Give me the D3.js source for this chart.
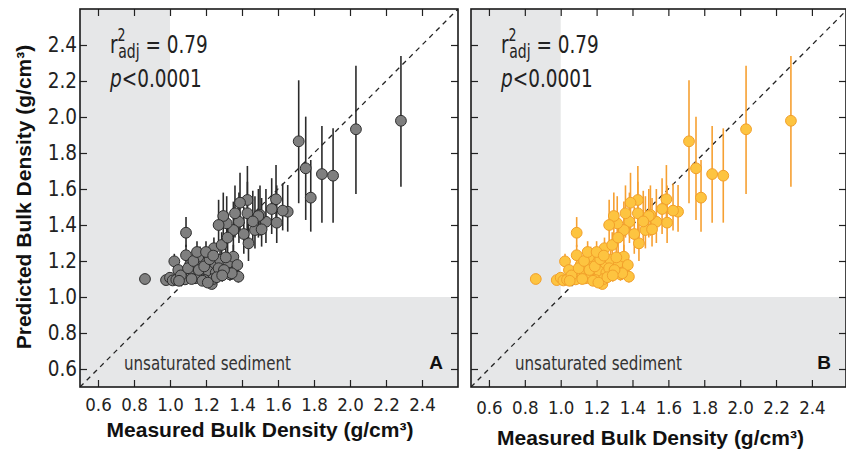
<!DOCTYPE html>
<html>
<head>
<meta charset="utf-8">
<style>
  body { margin: 0; background: #fff; }
  svg { display: block; }
  .tick text { font-family: "DejaVu Sans Condensed", "DejaVu Sans", sans-serif; fill: #222; }
  .narrow { font-family: "DejaVu Sans Condensed", "DejaVu Sans", sans-serif; }
</style>
</head>
<body>
<script src="https://cdn.jsdelivr.net/npm/d3@7"></script>
<script>

// measured vs predicted bulk density (g/cm3), with the error bar ends
var measured = [2.283, 2.033, 1.715, 1.754, 1.782, 1.844, 1.906, 1.654, 1.626, 1.589,
  1.565, 1.593, 1.533, 1.500, 1.491, 1.472, 1.509, 1.436, 1.430, 1.430,
  1.383, 1.389, 1.361, 1.352, 1.315, 1.296, 1.089, 1.244, 1.287, 0.861,
  0.978, 1.000, 1.015, 1.035, 1.089, 1.024, 1.046, 1.083, 1.120, 1.148,
  1.167, 1.185, 1.139, 1.170, 1.204, 1.232, 1.213, 1.250, 1.254, 1.278,
  1.324, 1.333, 1.352, 1.374, 1.380, 1.111, 1.157, 1.194, 1.343, 1.060,
  1.100, 1.130, 1.160, 1.190, 1.220, 1.240, 1.270, 1.300, 1.050, 1.120,
  1.180, 1.210, 1.260, 1.290, 1.310, 1.150, 1.200, 1.240, 1.410, 1.460,
  1.320, 1.270];
var predicted = [1.979, 1.932, 1.865, 1.715, 1.552, 1.683, 1.674, 1.474, 1.480, 1.543,
  1.489, 1.413, 1.418, 1.456, 1.450, 1.372, 1.376, 1.298, 1.539, 1.465,
  1.418, 1.524, 1.465, 1.372, 1.409, 1.450, 1.357, 1.271, 1.289, 1.100,
  1.094, 1.107, 1.092, 1.096, 1.232, 1.198, 1.150, 1.098, 1.132, 1.183,
  1.224, 1.206, 1.104, 1.122, 1.104, 1.072, 1.146, 1.187, 1.135, 1.206,
  1.191, 1.126, 1.224, 1.178, 1.113, 1.178, 1.224, 1.094, 1.132, 1.120,
  1.160, 1.200, 1.150, 1.170, 1.210, 1.100, 1.160, 1.150, 1.090, 1.100,
  1.090, 1.080, 1.110, 1.120, 1.220, 1.250, 1.250, 1.230, 1.350, 1.420,
  1.330, 1.400];
var predLow = [1.613, 1.572, 1.521, 1.428, 1.363, 1.413, 1.413, 1.363, 1.370, 1.418,
  1.350, 1.300, 1.300, 1.340, 1.330, 1.270, 1.280, 1.200, 1.335, 1.320,
  1.300, 1.360, 1.330, 1.250, 1.290, 1.310, 1.278, 1.200, 1.210, 1.080,
  1.070, 1.080, 1.070, 1.075, 1.180, 1.160, 1.110, 1.070, 1.100, 1.140,
  1.170, 1.160, 1.075, 1.090, 1.075, 1.045, 1.110, 1.140, 1.100, 1.150,
  1.140, 1.090, 1.170, 1.130, 1.080, 1.140, 1.170, 1.065, 1.095, 1.090,
  1.120, 1.160, 1.115, 1.130, 1.160, 1.070, 1.120, 1.110, 1.065, 1.075,
  1.065, 1.055, 1.080, 1.085, 1.160, 1.190, 1.190, 1.180, 1.240, 1.300,
  1.230, 1.290];
var predHigh = [2.339, 2.285, 2.204, 2.002, 1.761, 1.950, 1.937, 1.622, 1.631, 1.733,
  1.660, 1.620, 1.600, 1.620, 1.600, 1.560, 1.550, 1.450, 1.728, 1.640,
  1.580, 1.690, 1.620, 1.530, 1.560, 1.580, 1.444, 1.330, 1.360, 1.120,
  1.115, 1.130, 1.115, 1.120, 1.290, 1.240, 1.190, 1.130, 1.170, 1.230,
  1.280, 1.260, 1.135, 1.160, 1.140, 1.100, 1.190, 1.240, 1.175, 1.260,
  1.250, 1.170, 1.290, 1.230, 1.150, 1.220, 1.270, 1.125, 1.175, 1.150,
  1.200, 1.240, 1.190, 1.210, 1.260, 1.135, 1.200, 1.190, 1.115, 1.130,
  1.120, 1.110, 1.145, 1.160, 1.280, 1.310, 1.310, 1.290, 1.500, 1.590,
  1.470, 1.540];

var tickValues = [0.6, 0.8, 1.0, 1.2, 1.4, 1.6, 1.8, 2.0, 2.2, 2.4];
var saturation = 1.0; // below this on either axis = unsaturated sediment

var points = measured.map((m, i) => ({m: m, p: predicted[i], lo: predLow[i], hi: predHigh[i]}));

var svg = d3.select("body").append("svg")
    .attr("width", 846)
    .attr("height", 451);

var panels = [
  {id: "A", left: 80, right: 458, xMax: 2.6, fill: "#7f7f7f", stroke: "#2e2e2e", bar: "#2b2b2b",
   yLabels: true, tickBase: 11, titleY: 437},
  {id: "B", left: 471, right: 846, xMax: 2.59, fill: "#fdc440", stroke: "#f2a02a", bar: "#f6a032",
   yLabels: false, tickBase: 14, titleY: 445}
];

var plotTop = 9, plotBottom = 387;

panels.forEach(function(pn) {
  var x = d3.scaleLinear().domain([0.5, pn.xMax]).range([pn.left, pn.right]);
  var y = d3.scaleLinear().domain([0.5, 2.6]).range([plotBottom, plotTop]);

  var g = svg.append("g");
  var clipId = "clip" + pn.id;
  svg.append("clipPath").attr("id", clipId)
    .append("rect")
    .attr("x", pn.left).attr("y", plotTop)
    .attr("width", pn.right - pn.left).attr("height", plotBottom - plotTop);

  var plot = g.append("g").attr("clip-path", "url(#" + clipId + ")");

  // grey unsaturated zones
  plot.append("rect")
    .attr("x", x(0.5)).attr("y", plotTop)
    .attr("width", x(saturation) - x(0.5)).attr("height", plotBottom - plotTop)
    .attr("fill", "#e6e7e8");
  plot.append("rect")
    .attr("x", pn.left).attr("y", y(saturation))
    .attr("width", pn.right - pn.left).attr("height", y(0.5) - y(saturation))
    .attr("fill", "#e6e7e8");

  // 1:1 line
  plot.append("line")
    .attr("x1", x(0.5)).attr("y1", y(0.5))
    .attr("x2", x(2.6)).attr("y2", y(2.6))
    .attr("stroke", "#222").attr("stroke-width", 1.3)
    .attr("stroke-dasharray", "5,4.5");

  plot.selectAll(".err")
    .data(points)
    .join("line")
    .attr("class", "err")
    .attr("x1", d => x(d.m)).attr("x2", d => x(d.m))
    .attr("y1", d => y(d.lo)).attr("y2", d => y(d.hi))
    .attr("stroke", pn.bar).attr("stroke-width", 1.6);

  plot.selectAll(".pt")
    .data(points)
    .join("circle")
    .attr("class", "pt")
    .attr("cx", d => x(d.m)).attr("cy", d => y(d.p))
    .attr("r", 5.4)
    .attr("fill", pn.fill)
    .attr("stroke", pn.stroke).attr("stroke-width", 1);

  // axes, ticks pointing inward
  var ax = g.append("g").attr("transform", "translate(0," + plotBottom + ")")
    .call(d3.axisBottom(x).tickValues(tickValues).tickSize(-7).tickSizeOuter(0)
      .tickPadding(pn.tickBase).tickFormat(d3.format(".1f")));
  ax.selectAll("text").style("font-size", "18.5px");

  g.append("g").attr("transform", "translate(0," + plotTop + ")")
    .call(d3.axisTop(x).tickValues(tickValues).tickSize(-7).tickSizeOuter(0).tickFormat(""));

  var ay = g.append("g").attr("transform", "translate(" + pn.left + ",0)")
    .call(d3.axisLeft(y).tickValues(tickValues).tickSize(-7).tickSizeOuter(0)
      .tickPadding(3).tickFormat(pn.yLabels ? d3.format(".1f") : ""));
  ay.selectAll("text").style("font-size", "20.5px");

  g.append("g").attr("transform", "translate(" + pn.right + ",0)")
    .call(d3.axisRight(y).tickValues(tickValues).tickSize(-7).tickSizeOuter(0).tickFormat(""));

  g.selectAll(".domain").remove();
  g.selectAll(".tick line").attr("stroke", "#222").attr("stroke-width", 1.2);

  g.append("rect")
    .attr("x", pn.left).attr("y", plotTop)
    .attr("width", pn.right - pn.left).attr("height", plotBottom - plotTop)
    .attr("fill", "none").attr("stroke", "#1a1a1a").attr("stroke-width", 1.6);

  // annotations (squeezed horizontally to mimic the condensed face)
  var tx = x(0.5) + 30;
  var ann = g.append("g").attr("transform", "translate(" + tx + ",0) scale(0.82,1)");
  var r2 = ann.append("text").attr("class", "narrow")
    .attr("x", 0).attr("y", 53).attr("fill", "#222").style("font-size", "25px");
  r2.append("tspan").text("r");
  r2.append("tspan").attr("dy", -12).style("font-size", "17px").text("2");
  r2.append("tspan").attr("dx", -9).attr("dy", 17).style("font-size", "19px").text("adj");
  r2.append("tspan").attr("dy", -5).text(" = 0.79");

  var pv = ann.append("text").attr("class", "narrow")
    .attr("x", 0).attr("y", 87).attr("fill", "#222").style("font-size", "25px");
  pv.append("tspan").style("font-style", "italic").text("p");
  pv.append("tspan").text("<0.0001");

  g.append("text").attr("class", "narrow")
    .attr("x", x(0.5) + 44).attr("y", 370)
    .attr("fill", "#333").style("font-size", "20px")
    .attr("textLength", 167).attr("lengthAdjust", "spacingAndGlyphs")
    .text("unsaturated sediment");

  g.append("text")
    .attr("x", pn.right - 15).attr("y", 369)
    .attr("text-anchor", "end")
    .style("font-family", "Liberation Sans, Arial, sans-serif")
    .style("font-weight", "bold").style("font-size", "19px")
    .attr("fill", "#111")
    .text(pn.id);

  g.append("text")
    .attr("x", (x(0.6) + x(2.4)) / 2).attr("y", pn.titleY)
    .attr("text-anchor", "middle")
    .style("font-family", "Liberation Sans, Arial, sans-serif")
    .style("font-weight", "bold").style("font-size", "21px")
    .attr("fill", "#111")
    .text("Measured Bulk Density (g/cm³)");
});

svg.append("text")
  .attr("transform", "translate(31,197) rotate(-90)")
  .attr("text-anchor", "middle")
  .style("font-family", "Liberation Sans, Arial, sans-serif")
  .style("font-weight", "bold").style("font-size", "21px")
  .attr("fill", "#111")
  .text("Predicted Bulk Density (g/cm³)");

</script>
</body>
</html>
